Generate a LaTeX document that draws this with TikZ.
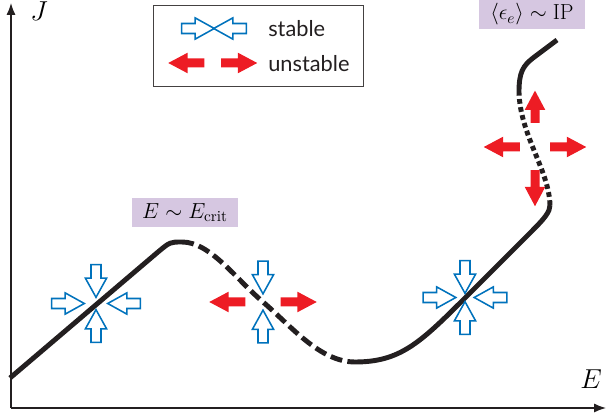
\documentclass[tikz,border=0pt]{standalone}
\usepackage{fix-cm}
\usepackage{fontspec}
\setsansfont{Lato}
\usepackage{tikz}
\usetikzlibrary{arrows.meta, positioning, calc, shapes.arrows}
\definecolor{stableblue}{RGB}{0,114,188}
\definecolor{unstablered}{RGB}{237,28,36}
\definecolor{labelpurple}{RGB}{214,199,225}
\definecolor{inkgray}{RGB}{35,31,32}

\begin{document}
\begin{tikzpicture}[x=0.025cm, y=-0.025cm,
    axis/.style={line width=1pt, draw=inkgray, -{Latex[length=8.5pt, width=6.5pt]}},
    curve/.style={line width=3.5pt, draw=inkgray},
    brokenline/.style={dash pattern=on 8.5pt off 3.8pt},
    dotline/.style={dash pattern=on 3.4pt off 2.4pt},
    inarrow/.style={single arrow, draw=stableblue, fill=white, line width=1.1pt,
        minimum height=23.2pt, inner xsep=0pt, inner ysep=3pt,
        single arrow head extend=4pt, single arrow tip angle=58},
    outarrow/.style={single arrow, fill=unstablered, minimum height=25.6pt,
        inner xsep=0pt, inner ysep=3pt, single arrow head extend=4.1pt,
        single arrow tip angle=56},
    regime/.style={fill=labelpurple, minimum width=75.4pt, minimum height=20.3pt,
        inner sep=0pt, font=\fontsize{15.5}{17}\selectfont},
    legendtext/.style={font=\sffamily\fontsize{15.5}{17}\selectfont, text=inkgray,
        anchor=base west, inner sep=0pt}
]
\useasboundingbox (0,0) rectangle (608,419);

\coordinate (O) at (11,408);
\coordinate (Jtop) at (11,3);
\coordinate (Eend) at (606,408);
\draw[axis] (O) -- (Jtop);
\draw[axis] (O) -- (Eend);
\node[font=\fontsize{19.5}{20}\selectfont, anchor=base, inner sep=0pt] (Jlab) at (39,21) {$J$};
\node[font=\fontsize{19.5}{20}\selectfont, anchor=base, inner sep=0pt] (Elab) at (591,389) {$E$};

\node[draw=inkgray!85, line width=0.7pt, minimum width=148.7pt, minimum height=58.3pt] (legend) at (258.5,46) {};
\node[inarrow] (legin1) at (193.5,28.5) {};
\node[inarrow, rotate=180] (legin2) at (234.5,28.5) {};
\node[outarrow, rotate=180] (legout1) at (190.5,63) {};
\node[outarrow] (legout2) at (235,63) {};
\node[legendtext] (stabletext) at (268,37) {stable};
\node[legendtext] (unstabletext) at (268,72) {unstable};

\node[regime] (critlab) at (185,212.5) {$E\sim E_{\mathrm{crit}}$};
\node[regime] (iplab) at (532,14.5) {$\langle\epsilon_e\rangle\sim\mathrm{IP}$};

\draw[curve] (10,378) -- (158,252) .. controls (170,242) .. (182,242);
\draw[curve, brokenline] (182,242) .. controls (210,242) and (235,278) .. (263,302)
    .. controls (291,326) and (320,362) .. (355,362);
\draw[curve] (355,362) .. controls (400,362) and (420,343) .. (465,298) -- (530,233)
    .. controls (545,218) and (550,212) .. (550,205);
\draw[curve, dotline] (550,205) .. controls (549,170) and (520,135) .. (519,92);
\draw[curve] (519,92) .. controls (519,72) and (523,66) .. (533,58) -- (557,40);

\coordinate (cross1) at (96,303.5);
\coordinate (cross2) at (263,302);
\coordinate (cross3) at (465,297.5);
\coordinate (cross4) at (535,147);

\node[inarrow, rotate=-90] (c1n) at ($(cross1)+(0,-27)$) {};
\node[inarrow, rotate=90] (c1s) at ($(cross1)+(0,27)$) {};
\node[inarrow] (c1w) at ($(cross1)+(-32.5,0)$) {};
\node[inarrow, rotate=180] (c1e) at ($(cross1)+(32.5,0)$) {};

\node[inarrow, rotate=-90] (c2n) at ($(cross2)+(0,-29)$) {};
\node[inarrow, rotate=90] (c2s) at ($(cross2)+(0,29)$) {};
\node[outarrow, rotate=180] (c2w) at ($(cross2)+(-31.5,0)$) {};
\node[outarrow] (c2e) at ($(cross2)+(31.5,0)$) {};

\node[inarrow, rotate=-90] (c3n) at ($(cross3)+(0,-25)$) {};
\node[inarrow, rotate=90] (c3s) at ($(cross3)+(0,25)$) {};
\node[inarrow] (c3w) at ($(cross3)+(-30,0)$) {};
\node[inarrow, rotate=180] (c3e) at ($(cross3)+(30,0)$) {};

\node[outarrow, rotate=90, minimum height=23pt] (c4n) at ($(cross4)+(0,-36)$) {};
\node[outarrow, rotate=-90] (c4s) at ($(cross4)+(0,37)$) {};
\node[outarrow, rotate=180] (c4w) at ($(cross4)+(-29,0)$) {};
\node[outarrow] (c4e) at ($(cross4)+(29,0)$) {};
\end{tikzpicture}
\end{document}
